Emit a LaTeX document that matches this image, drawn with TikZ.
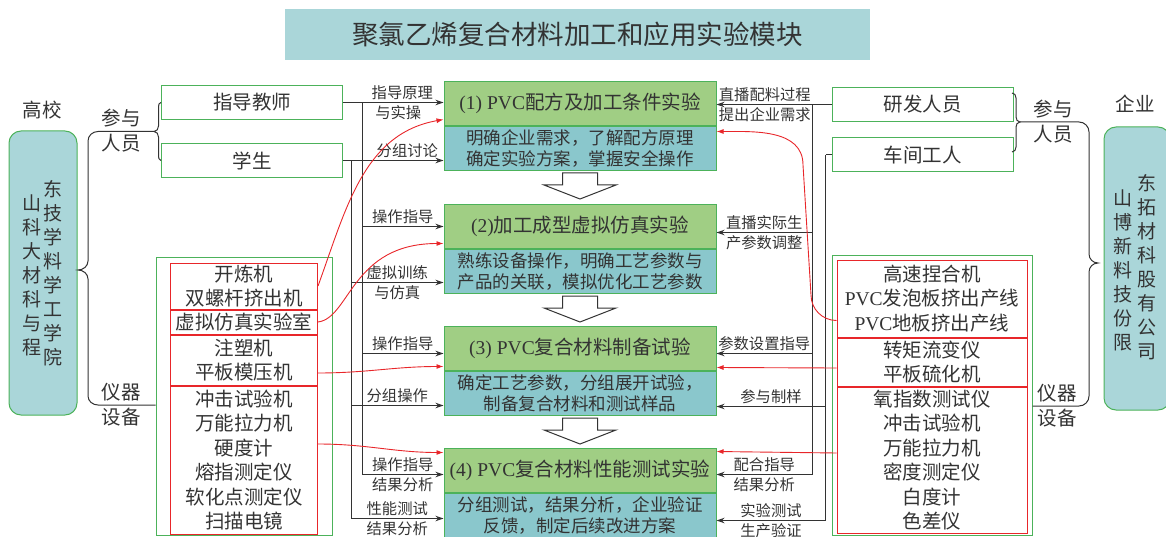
\documentclass[tikz,border=0pt]{standalone}
\usepackage{fontspec}
\setmainfont{Noto Sans CJK SC}
\newfontfamily\lat{Liberation Serif}
\usetikzlibrary{positioning,arrows.meta}

\definecolor{hdrgreen}{RGB}{160,206,132}
\definecolor{bodyteal}{RGB}{138,199,204}
\definecolor{paleteal}{RGB}{170,214,217}
\definecolor{boxgreen}{RGB}{76,178,90}
\definecolor{linered}{RGB}{232,38,42}
\definecolor{ink}{RGB}{51,51,51}

\begin{document}
\begin{tikzpicture}[x=1pt,y=-1pt,
	wire/.style={draw=ink,line width=1pt},
	flow/.style={wire,-{Stealth[length=8pt,width=5.5pt]}},
	redflow/.style={draw=linered,line width=0.9pt,-{Latex[length=7pt,width=5pt]}},
	hdr/.style={draw=boxgreen,fill=hdrgreen,line width=1pt,text=ink,minimum width=272,minimum height=44,inner xsep=2pt,font=\fontsize{19.5}{24}\selectfont},
	desc/.style={draw=boxgreen,fill=bodyteal,line width=1pt,text=ink,minimum width=272,minimum height=44,inner sep=1pt,align=center,font=\fontsize{17.5}{21}\selectfont},
	person/.style={draw=boxgreen,line width=1pt,text=ink,minimum width=181,minimum height=34,font=\fontsize{19.5}{24}\selectfont},
	eqbox/.style={draw=boxgreen,line width=1pt},
	eqsec/.style={draw=linered,line width=1pt,text=ink,inner sep=0pt,align=center,font=\fontsize{19.5}{24.4}\selectfont},
	orgbox/.style={draw=boxgreen,fill=paleteal,line width=1pt,rounded corners=12pt},
	vtext/.style={text=ink,align=center,inner sep=0pt,font=\fontsize{19}{24}\selectfont},
	bracetext/.style={text=ink,align=center,font=\fontsize{19.5}{25}\selectfont},
	lbl/.style={text=ink,inner sep=2.5pt,font=\fontsize{15.3}{18}\selectfont},
	fatarrow/.style={draw=ink,fill=white,line width=1pt}
	]

\useasboundingbox (0,0) rectangle (1166,537);

\node[fill=paleteal,text=ink,minimum width=585,minimum height=51,font=\fontsize{26.5}{30}\selectfont] (title) at (577.5,34.5) {聚氯乙烯复合材料加工和应用实验模块};

% experiments
\node[hdr,anchor=north] (h1) at (580,81) {{\lat (1) PVC}配方及加工条件实验};
\node[desc,below=0pt of h1] (b1) {明确企业需求，了解配方原理\\确定实验方案，掌握安全操作};
\node[hdr,anchor=north] (h2) at (580,204) {{\lat (2)}加工成型虚拟仿真实验};
\node[desc,below=0pt of h2] (b2) {熟练设备操作，明确工艺参数与\\产品的关联，模拟优化工艺参数};
\node[hdr,anchor=north] (h3) at (580,326) {{\lat (3) PVC}复合材料制备试验};
\node[desc,below=0pt of h3] (b3) {确定工艺参数，分组展开试验，\\制备复合材料和测试样品};
\node[hdr,anchor=north] (h4) at (580,448) {{\lat (4) PVC}复合材料性能测试实验};
\node[desc,below=0pt of h4] (b4) {分组测试，结果分析，企业验证\\反馈，制定后续改进方案};

\foreach \a in {b1,b2,b3}
	\draw[fatarrow] ([xshift=-17.5pt,yshift=-2pt]\a.south) -- ++(0,12) -- ++(-18.5,0) -- ++(36,14) -- ++(36,-14) -- ++(-18.5,0) -- ++(0,-12) -- cycle;

% school side
\node[bracetext] (unilab) at (42,110) {高校};
\node[orgbox,minimum width=68,minimum height=284] (univ) at (43,273) {};
\node[vtext] (univL) at (32,275) {山\\科\\大\\材\\科\\与\\程};
\node[vtext] (univR) at (53,273.5) {东\\技\\学\\料\\学\\工\\学\\院};
\node[bracetext] (lpeople) at (121,131) {参与\\人员};
\node[bracetext] (ldevice) at (121,405) {仪器\\设备};

\node[person] (teacher) at (252,102.5) {指导教师};
\node[person] (student) at (252,160.5) {学生};

\node[eqbox,minimum width=176,minimum height=278] (leq) at (244,396) {};
\node[eqsec,minimum width=147,minimum height=46,below=6pt of leq.north] (lsec1) {开炼机\\双螺杆挤出机};
\node[eqsec,minimum width=147,minimum height=24,below=0pt of lsec1] (lsec2) {虚拟仿真实验室};
\node[eqsec,minimum width=147,minimum height=50,below=0pt of lsec2] (lsec3) {注塑机\\平板模压机};
\node[eqsec,minimum width=147,minimum height=148,below=0pt of lsec3] (lsec4) {冲击试验机\\万能拉力机\\硬度计\\熔指测定仪\\软化点测定仪\\扫描电镜};

% company side
\node[bracetext] (firmlab) at (1135,104) {企业};
\node[orgbox,minimum width=66,minimum height=283] (firm) at (1137,268.5) {};
\node[vtext] (firmL) at (1123,270) {山\\博\\新\\料\\技\\份\\限};
\node[vtext] (firmR) at (1147,267) {东\\拓\\材\\科\\股\\有\\公\\司};
\node[bracetext] (rpeople) at (1053,122) {参与\\人员};
\node[bracetext] (rdevice) at (1057,406) {仪器\\设备};

\node[person] (rnd) at (922.5,104.5) {研发人员};
\node[person] (worker) at (922.5,155) {车间工人};

\node[eqbox,minimum width=200,minimum height=280] (req) at (932,395) {};
\node[eqsec,minimum width=190,minimum height=77,below=5pt of req.north] (rsec1) {高速捏合机\\{\lat PVC}发泡板挤出产线\\{\lat PVC}地板挤出产线};
\node[eqsec,minimum width=190,minimum height=48,below=0pt of rsec1] (rsec2) {转矩流变仪\\平板硫化机};
\node[eqsec,minimum width=190,minimum height=146,below=0pt of rsec2] (rsec3) {氧指数测试仪\\冲击试验机\\万能拉力机\\密度测定仪\\白度计\\色差仪};

% braces
\coordinate (lsmall) at (154,131.5);
\draw[wire] (teacher.west) to[out=180,in=90] (158.5,107) -- (158.5,126) to[out=270,in=0] (lsmall) to[out=0,in=90] (158.5,137) -- (158.5,155) to[out=270,in=180] (student.west);
\draw[wire] (lsmall) -- (98,131.5) to[out=180,in=90] (88,141) -- (88,261) to[out=270,in=0] (78,270) to[out=0,in=90] (88,279) -- (88,396) to[out=270,in=180] (98,405) -- (leq.west |- 0,405);

\coordinate (rsmall) at (1020,122);
\draw[wire] (1012,93) to[out=0,in=90] (1016,98) -- (1016,117) to[out=270,in=180] (rsmall) to[out=180,in=90] (1016,127) -- (1016,147) to[out=270,in=0] (1012,152);
\draw[wire] (rsmall) -- (1079,122) to[out=0,in=90] (1089,132) -- (1089,254) to[out=270,in=180] (1098,263) to[out=180,in=90] (1089,272) -- (1089,396) to[out=270,in=0] (1079,406) -- (req.east |- 0,406);

% black connectors, left
\coordinate (ltA) at (362,102.5);
\coordinate (ltB) at (351,160.5);
\draw[flow] (teacher.east) -- (teacher.east -| h1.west) node[lbl,pos=0.59,above]{指导原理} node[lbl,pos=0.55,below]{与实操};
\draw[flow] (student.east) -- (student.east -| b1.west) node[lbl,pos=0.64,above]{分组讨论};
\draw[flow] (ltA) |- (h2.west) node[lbl,pos=0.75,above]{操作指导};
\draw[flow] (ltA) |- ([yshift=-5pt]h3.west) node[lbl,pos=0.75,above]{操作指导};
\draw[flow] (ltA) |- ([yshift=-4pt]h4.west) node[lbl,pos=0.75,above]{操作指导} node[lbl,pos=0.75,below]{结果分析};
\draw[flow] (ltB) |- ([yshift=-11pt]b2.west) node[lbl,pos=0.75,above]{虚拟训练} node[lbl,pos=0.75,below]{与仿真};
\draw[flow] (ltB) |- ([yshift=-12pt]b3.west) node[lbl,pos=0.75,above]{分组操作};
\draw[flow] (ltB) |- ([yshift=-3pt]b4.west) node[lbl,pos=0.75,above]{性能测试} node[lbl,pos=0.75,below]{结果分析};

% black connectors, right
\coordinate (rtA) at (812,104.5);
\draw[flow] (rnd.west) -- (rnd.west -| h1.east) node[lbl,pos=0.58,above]{直播配料过程} node[lbl,pos=0.58,below]{提出企业需求};
\draw[flow] (rtA) |- ([yshift=-6pt]h2.east) node[lbl,pos=0.75,above]{直播实际生} node[lbl,pos=0.75,below]{产参数调整};
\draw[flow] (rtA) |- ([yshift=-5pt]h3.east) node[lbl,pos=0.75,above]{参数设置指导};
\draw[flow] (rtA) |- ([yshift=-4pt]h4.east) node[lbl,pos=0.75,above]{配合指导} node[lbl,pos=0.75,below]{结果分析};
\draw[wire] (worker.west) -- ++(-6,0) coordinate (rtB);
\draw[flow] (rtB) |- ([yshift=-13pt]b3.east) node[lbl,pos=0.75,above]{参与制样};
\draw[flow] (rtB) |- ([yshift=-5pt]b4.east) node[lbl,pos=0.75,above]{实验测试} node[lbl,pos=0.75,below]{生产验证};

% red connectors
\draw[redflow] (lsec1.east) to[out=70,in=190] ([yshift=-16pt]h1.west);
\draw[redflow] (lsec2.east) .. controls +(32,-4) and +(-92,0) .. ([yshift=-17pt]h2.west);
\draw[redflow] ([yshift=-13pt]lsec3.east) to[out=0,in=180] ([yshift=-18pt]h3.west);
\draw[redflow] ([yshift=16pt]lsec4.east) to[out=0,in=180] ([yshift=18pt]h4.west);
\draw[redflow] ([yshift=-22pt]rsec1.west) to[out=180,in=270] (811,295) -- (803,165) to[out=90,in=0] ([yshift=17pt]b1.east);
\draw[redflow] ([yshift=-6pt]rsec2.west) -- ([yshift=-19pt]h3.east);
\draw[redflow] ([yshift=7pt]rsec3.west) -- ([yshift=19pt]h4.east);

\end{tikzpicture}
\end{document}
